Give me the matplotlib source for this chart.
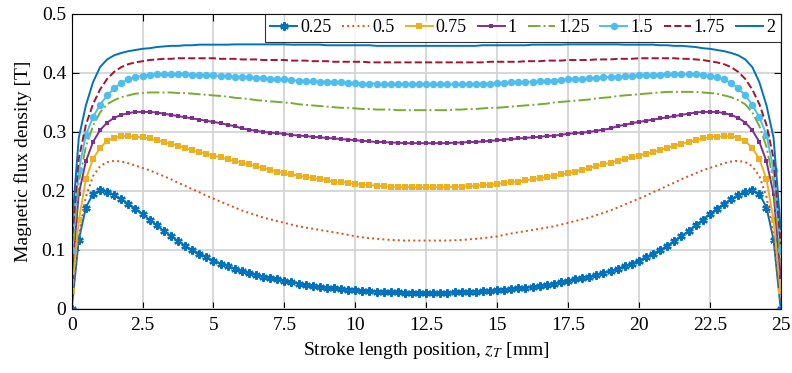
import numpy as np
import matplotlib
matplotlib.use("Agg")
import matplotlib.pyplot as plt
from matplotlib.ticker import FuncFormatter, MultipleLocator

plt.rcParams["font.family"] = ["Liberation Serif", "DejaVu Serif"]
plt.rcParams["mathtext.fontset"] = "stix"

# stroke position samples [mm]
stroke_mm = np.linspace(0.0, 25.0, 101)

# flux density [T] for each excitation level
b_025 = [
    0.000, 0.117, 0.172, 0.195, 0.201, 0.199, 0.193, 0.186, 0.178, 0.170,
    0.161, 0.151, 0.142, 0.132, 0.124, 0.115, 0.107, 0.100, 0.094, 0.088,
    0.082, 0.077, 0.073, 0.068, 0.064, 0.061, 0.058, 0.055, 0.053, 0.050,
    0.048, 0.0455, 0.043, 0.041, 0.039, 0.0375, 0.036, 0.035, 0.034, 0.033,
    0.032, 0.031, 0.030, 0.0295, 0.029, 0.0285, 0.028, 0.0275, 0.027, 0.027,
    0.027,
    0.027, 0.027, 0.0275, 0.028, 0.0285, 0.029, 0.0295, 0.030, 0.031, 0.032,
    0.033, 0.034, 0.035, 0.036, 0.0375, 0.039, 0.041, 0.043, 0.0455, 0.048,
    0.050, 0.053, 0.055, 0.058, 0.061, 0.064, 0.068, 0.073, 0.077, 0.082,
    0.088, 0.094, 0.100, 0.107, 0.115, 0.124, 0.132, 0.142, 0.151, 0.161,
    0.170, 0.178, 0.186, 0.193, 0.199, 0.201, 0.195, 0.172, 0.117, 0.000,
]
b_050 = [
    0.010, 0.125, 0.190, 0.225, 0.242, 0.249, 0.251, 0.250, 0.247, 0.243,
    0.239, 0.235, 0.230, 0.225, 0.220, 0.214, 0.209, 0.203, 0.198, 0.192,
    0.187, 0.182, 0.177, 0.172, 0.167, 0.163, 0.159, 0.155, 0.152, 0.149,
    0.146, 0.143, 0.140, 0.138, 0.136, 0.134, 0.132, 0.130, 0.128, 0.1255,
    0.123, 0.1215, 0.120, 0.119, 0.118, 0.117, 0.1165, 0.116, 0.116, 0.116,
    0.116,
    0.116, 0.116, 0.116, 0.1165, 0.117, 0.118, 0.119, 0.120, 0.1215, 0.123,
    0.1255, 0.128, 0.130, 0.132, 0.134, 0.136, 0.138, 0.140, 0.143, 0.146,
    0.149, 0.152, 0.155, 0.159, 0.163, 0.167, 0.172, 0.177, 0.182, 0.187,
    0.192, 0.198, 0.203, 0.209, 0.214, 0.220, 0.225, 0.230, 0.235, 0.239,
    0.243, 0.247, 0.250, 0.251, 0.249, 0.242, 0.225, 0.190, 0.125, 0.010,
]
b_075 = [
    0.030, 0.150, 0.220, 0.254, 0.273, 0.285, 0.290, 0.293, 0.293, 0.292,
    0.291, 0.289, 0.286, 0.283, 0.280, 0.277, 0.273, 0.269, 0.266, 0.263,
    0.260, 0.257, 0.254, 0.251, 0.248, 0.245, 0.242, 0.239, 0.236, 0.233,
    0.230, 0.228, 0.226, 0.224, 0.222, 0.220, 0.218, 0.216, 0.215, 0.214,
    0.212, 0.211, 0.210, 0.209, 0.208, 0.2075, 0.207, 0.207, 0.2065, 0.2065,
    0.2065,
    0.2065, 0.2065, 0.207, 0.207, 0.2075, 0.208, 0.209, 0.210, 0.211, 0.212,
    0.214, 0.215, 0.216, 0.218, 0.220, 0.222, 0.224, 0.226, 0.228, 0.230,
    0.233, 0.236, 0.239, 0.242, 0.245, 0.248, 0.251, 0.254, 0.257, 0.260,
    0.263, 0.266, 0.269, 0.273, 0.277, 0.280, 0.283, 0.286, 0.289, 0.291,
    0.292, 0.293, 0.293, 0.290, 0.285, 0.273, 0.254, 0.220, 0.150, 0.030,
]
b_100 = [
    0.055, 0.195, 0.250, 0.283, 0.303, 0.316, 0.324, 0.329, 0.332, 0.334,
    0.334, 0.334, 0.333, 0.331, 0.329, 0.327, 0.325, 0.323, 0.321, 0.319,
    0.317, 0.315, 0.312, 0.310, 0.306, 0.304, 0.302, 0.300, 0.299, 0.298,
    0.297, 0.295, 0.294, 0.293, 0.292, 0.291, 0.290, 0.289, 0.288, 0.287,
    0.286, 0.285, 0.284, 0.283, 0.283, 0.282, 0.282, 0.281, 0.281, 0.281,
    0.281,
    0.281, 0.281, 0.281, 0.282, 0.282, 0.283, 0.283, 0.284, 0.285, 0.286,
    0.287, 0.288, 0.289, 0.290, 0.291, 0.292, 0.293, 0.294, 0.295, 0.297,
    0.298, 0.299, 0.300, 0.302, 0.304, 0.306, 0.310, 0.312, 0.315, 0.317,
    0.319, 0.321, 0.323, 0.325, 0.327, 0.329, 0.331, 0.333, 0.334, 0.334,
    0.334, 0.332, 0.329, 0.324, 0.316, 0.303, 0.283, 0.250, 0.195, 0.055,
]
b_125 = [
    0.080, 0.215, 0.275, 0.310, 0.333, 0.347, 0.354, 0.359, 0.362, 0.365,
    0.366, 0.367, 0.367, 0.367, 0.367, 0.366, 0.366, 0.365, 0.364, 0.363,
    0.362, 0.361, 0.360, 0.358, 0.357, 0.356, 0.354, 0.353, 0.352, 0.351,
    0.350, 0.349, 0.347, 0.346, 0.345, 0.344, 0.343, 0.342, 0.341, 0.341,
    0.340, 0.339, 0.339, 0.338, 0.338, 0.338, 0.337, 0.337, 0.337, 0.337,
    0.337,
    0.337, 0.337, 0.337, 0.338, 0.338, 0.339, 0.339, 0.340, 0.341, 0.341,
    0.342, 0.343, 0.344, 0.345, 0.346, 0.347, 0.348, 0.350, 0.351, 0.352,
    0.353, 0.354, 0.355, 0.357, 0.358, 0.359, 0.361, 0.362, 0.363, 0.364,
    0.365, 0.366, 0.367, 0.368, 0.368, 0.368, 0.368, 0.368, 0.367, 0.366,
    0.365, 0.362, 0.359, 0.354, 0.347, 0.333, 0.310, 0.275, 0.215, 0.080,
]
b_150 = [
    0.100, 0.235, 0.295, 0.325, 0.346, 0.362, 0.374, 0.383, 0.389, 0.393,
    0.395, 0.397, 0.398, 0.398, 0.398, 0.398, 0.398, 0.397, 0.397, 0.396,
    0.396, 0.395, 0.395, 0.394, 0.393, 0.393, 0.392, 0.391, 0.390, 0.390,
    0.389, 0.388, 0.387, 0.387, 0.386, 0.385, 0.385, 0.384, 0.384, 0.383,
    0.383, 0.382, 0.382, 0.382, 0.381, 0.381, 0.381, 0.381, 0.381, 0.381,
    0.381,
    0.381, 0.381, 0.381, 0.381, 0.381, 0.381, 0.382, 0.382, 0.382, 0.383,
    0.383, 0.384, 0.384, 0.385, 0.385, 0.386, 0.387, 0.387, 0.388, 0.389,
    0.390, 0.390, 0.391, 0.392, 0.393, 0.393, 0.394, 0.395, 0.395, 0.396,
    0.396, 0.397, 0.397, 0.398, 0.398, 0.398, 0.398, 0.398, 0.397, 0.395,
    0.393, 0.389, 0.383, 0.374, 0.362, 0.346, 0.325, 0.295, 0.235, 0.100,
]
b_175 = [
    0.110, 0.255, 0.312, 0.347, 0.372, 0.390, 0.402, 0.410, 0.415, 0.418,
    0.420, 0.422, 0.423, 0.424, 0.424, 0.425, 0.425, 0.425, 0.425, 0.425,
    0.425, 0.424, 0.424, 0.424, 0.423, 0.423, 0.423, 0.422, 0.422, 0.422,
    0.422, 0.421, 0.421, 0.421, 0.420, 0.420, 0.420, 0.419, 0.419, 0.419,
    0.419, 0.419, 0.418, 0.418, 0.418, 0.418, 0.418, 0.418, 0.418, 0.418,
    0.418,
    0.418, 0.418, 0.418, 0.418, 0.418, 0.418, 0.418, 0.418, 0.419, 0.419,
    0.419, 0.419, 0.419, 0.420, 0.420, 0.420, 0.421, 0.421, 0.421, 0.422,
    0.422, 0.422, 0.422, 0.423, 0.423, 0.423, 0.424, 0.424, 0.424, 0.425,
    0.425, 0.425, 0.425, 0.425, 0.425, 0.424, 0.424, 0.423, 0.422, 0.420,
    0.418, 0.415, 0.410, 0.402, 0.390, 0.372, 0.347, 0.312, 0.255, 0.110,
]
b_200 = [
    0.135, 0.290, 0.345, 0.384, 0.410, 0.423, 0.430, 0.434, 0.437, 0.439,
    0.441, 0.442, 0.444, 0.445, 0.446, 0.446, 0.447, 0.447, 0.448, 0.448,
    0.448, 0.448, 0.448, 0.4485, 0.4485, 0.4485, 0.4485, 0.4485, 0.4485, 0.4485,
    0.4485, 0.448, 0.448, 0.448, 0.448, 0.448, 0.447, 0.447, 0.447, 0.447,
    0.447, 0.447, 0.447, 0.446, 0.446, 0.446, 0.446, 0.446, 0.446, 0.446,
    0.446,
    0.446, 0.446, 0.446, 0.446, 0.446, 0.446, 0.446, 0.447, 0.447, 0.447,
    0.447, 0.447, 0.447, 0.447, 0.448, 0.448, 0.448, 0.448, 0.448, 0.4485,
    0.4485, 0.4485, 0.4485, 0.4485, 0.4485, 0.4485, 0.4485, 0.448, 0.448, 0.448,
    0.448, 0.448, 0.447, 0.447, 0.446, 0.446, 0.445, 0.444, 0.442, 0.441,
    0.439, 0.437, 0.434, 0.430, 0.423, 0.410, 0.384, 0.345, 0.290, 0.135,
]

labels = ["0.25", "0.5", "0.75", "1", "1.25", "1.5", "1.75", "2"]
series = [b_025, b_050, b_075, b_100, b_125, b_150, b_175, b_200]

# line styles per curve (MATLAB default colour order)
styles = [
    dict(color="#0072BD", ls="-", marker=(6, 2, 0), ms=6, mew=1.6),
    dict(color="#D95319", ls=":", marker=None),
    dict(color="#EDB120", ls="-", marker="s", ms=4.6, mew=0),
    dict(color="#7E2F8E", ls="-", marker="s", ms=2.6, mew=0),
    dict(color="#77AC30", ls="-.", marker=None),
    dict(color="#4DBEEE", ls="-", marker="o", ms=5.4, mew=0),
    dict(color="#A2142F", ls="--", marker=None),
    dict(color="#0072BD", ls="-", marker=None),
]

fig = plt.figure(figsize=(7.92, 3.73), dpi=100)
ax = fig.add_axes([0.0905, 0.1716, 0.8952, 0.7909])

for vals, lab, st in zip(series, labels, styles):
    assert len(vals) == len(stroke_mm)
    ax.plot(stroke_mm, vals, label=lab, linewidth=1.4, **st)

ax.set_xlim(0, 25)
ax.set_ylim(0, 0.5)
ax.xaxis.set_major_locator(MultipleLocator(2.5))
ax.yaxis.set_major_locator(MultipleLocator(0.1))
fmt = FuncFormatter(lambda v, _: f"{v:g}")
ax.xaxis.set_major_formatter(fmt)
ax.yaxis.set_major_formatter(fmt)
ax.grid(True, color="#d4d4d4", linewidth=1.3)
ax.set_axisbelow(True)
ax.tick_params(direction="in", length=5, width=0.8, top=True, right=True,
               labelsize=14)
ax.tick_params(axis="x", pad=6)
ax.tick_params(axis="y", pad=4)
for sp in ax.spines.values():
    sp.set_linewidth(0.8)

ax.set_xlabel("Stroke length position, $z_T$ [mm]", fontsize=14, labelpad=4)
ax.set_ylabel("Magnetic flux density [T]", fontsize=14, labelpad=7)

leg = ax.legend(loc="upper right", ncol=8, fontsize=13, frameon=True,
                fancybox=False, borderaxespad=0.0, handlelength=1.5,
                handletextpad=0.17, columnspacing=0.6, borderpad=0.3,
                numpoints=1)
leg.get_frame().set_edgecolor("black")
leg.get_frame().set_linewidth(0.8)

fig.savefig("out.png", dpi=100)
